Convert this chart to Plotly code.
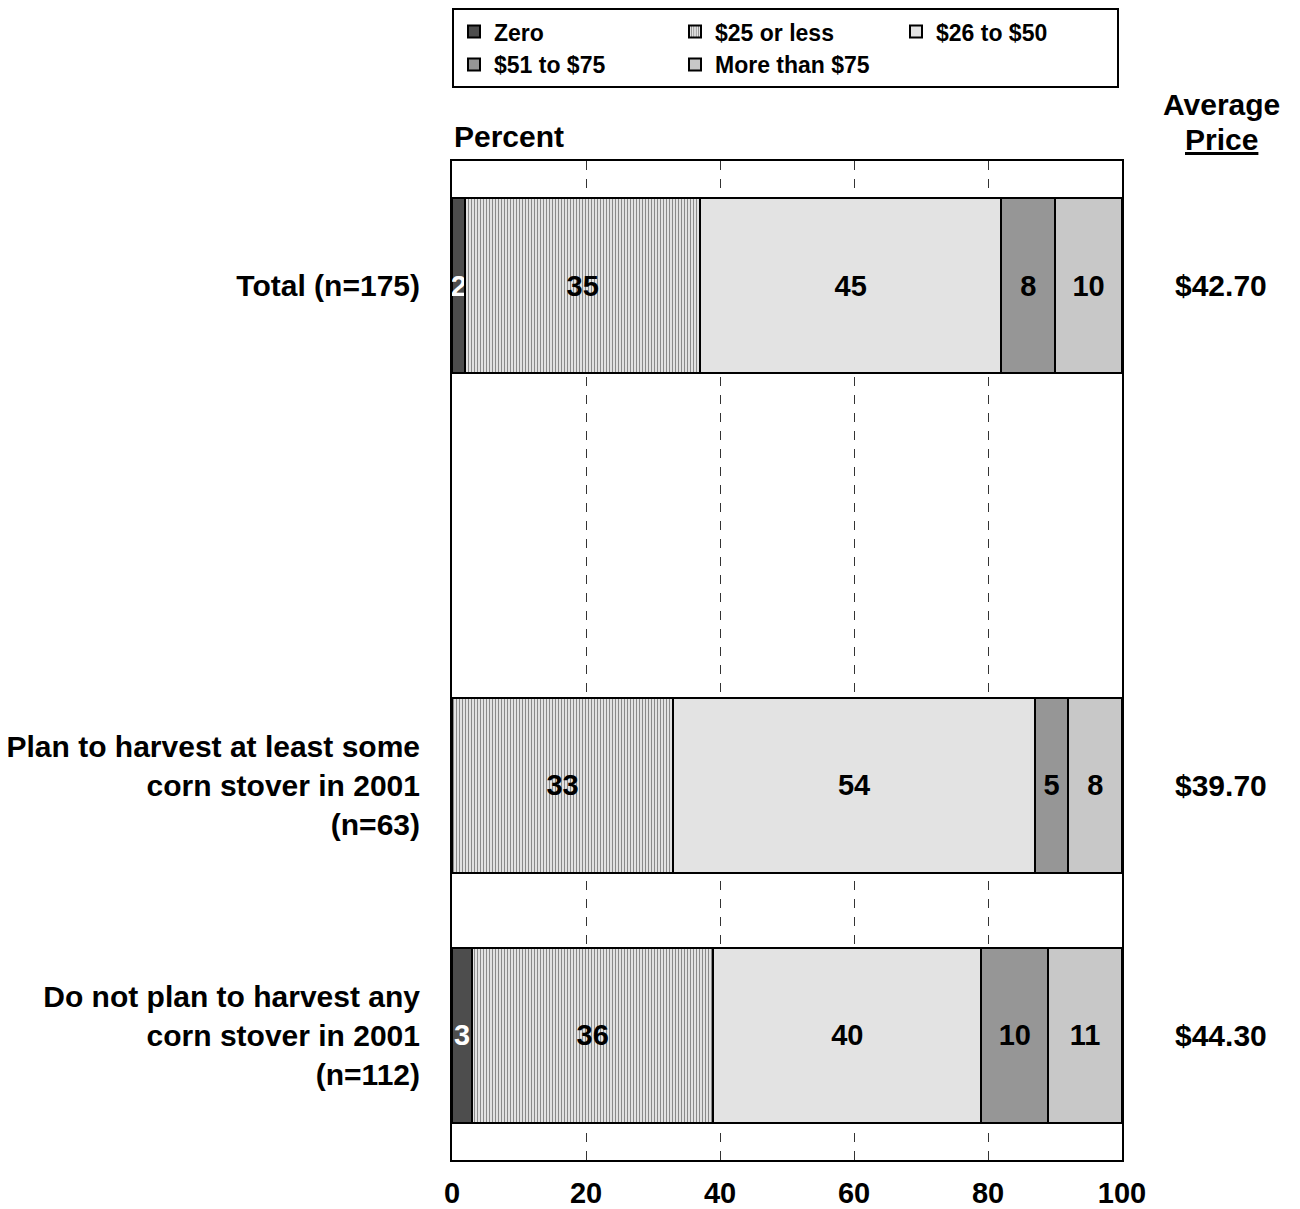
import plotly.graph_objects as go

categories = [
    "Total (n=175)",
    "\u00a0",
    "Plan to harvest at least some<br>corn stover in 2001<br>(n=63)",
    "Do not plan to harvest any<br>corn stover in 2001<br>(n=112)",
]
series_names = ["Zero", "$25 or less", "$26 to $50", "$51 to $75", "More than $75"]
zero_vals = [2, None, 0, 3]
le25_vals = [35, None, 33, 36]
v26_50_vals = [45, None, 54, 40]
v51_75_vals = [8, None, 5, 10]
gt75_vals = [10, None, 8, 11]
avg_price = ["$42.70", None, "$39.70", "$44.30"]
x_ticks = [0, 20, 40, 60, 80, 100]

FONT = "Arial, Liberation Sans, sans-serif"

series = [zero_vals, le25_vals, v26_50_vals, v51_75_vals, gt75_vals]
fills = ["#4d4d4d", "white", "#e3e3e3", "#969696", "#c8c8c8"]
text_colors = ["white", "black", "black", "black", "black"]

fig = go.Figure()
for i, (name, vals) in enumerate(zip(series_names, series)):
    txt = ["" if (v is None or v == 0) else str(v) for v in vals]
    marker = dict(color=fills[i], line=dict(color="black", width=2))
    if name == "$25 or less":
        marker["pattern"] = dict(shape="|", fgcolor="#8a8a8a", bgcolor="white",
                                 size=3, solidity=0.5, fillmode="replace")
    fig.add_trace(go.Bar(
        name=name, y=categories, x=vals, orientation="h",
        marker=marker, text=txt, textposition="inside",
        insidetextanchor="middle", constraintext="none",
        textfont=dict(family=FONT, size=29, color=text_colors[i], weight="bold"),
        cliponaxis=False, hoverinfo="skip",
    ))

big = dict(family=FONT, size=30, color="black", weight="bold")
for cat, p in zip(categories, avg_price):
    if p:
        fig.add_annotation(x=1.148, xref="paper", y=cat, yref="y", text=p,
                           showarrow=False, xanchor="center", font=big)

fig.add_annotation(x=1.148, xref="paper", y=1.0, yref="paper", yshift=57,
                   text="Average", showarrow=False, xanchor="center",
                   yanchor="middle", font=big)
fig.add_annotation(x=1.148, xref="paper", y=1.0, yref="paper", yshift=22,
                   text='<span style="text-decoration:underline">Price</span>',
                   showarrow=False, xanchor="center", yanchor="middle", font=big)
fig.add_annotation(x=0, xref="paper", y=1.0, yref="paper", yshift=25,
                   text="Percent", showarrow=False, xanchor="left", yanchor="middle",
                   font=big)

fig.update_layout(
    width=1292, height=1201,
    margin=dict(l=444, r=178, t=153, b=49, autoexpand=False),
    barmode="stack", bargap=0.3,
    plot_bgcolor="white", paper_bgcolor="white",
    font=dict(family=FONT, color="black"),
    legend=dict(orientation="h", x=0, xanchor="left", y=1.153, yanchor="top",
                bordercolor="black", borderwidth=2, entrywidth=176,
                font=dict(family=FONT, size=23, color="black", weight="bold"),
                traceorder="normal", itemwidth=30),
)
fig.update_xaxes(range=[0, 100], tickvals=x_ticks, showgrid=True,
                 gridcolor="#333333", griddash="dash", gridwidth=1,
                 showline=True, linecolor="black", linewidth=2, mirror=True,
                 zeroline=False, ticks="", ticklabelstandoff=6,
                 tickfont=dict(family=FONT, size=29, color="black", weight="bold"))
fig.update_yaxes(type="category", categoryorder="array", categoryarray=categories,
                 autorange="reversed", showgrid=False,
                 showline=True, linecolor="black", linewidth=2, mirror=True,
                 ticks="", ticklabelstandoff=24,
                 tickfont=big)

fig.write_html("out.html")
